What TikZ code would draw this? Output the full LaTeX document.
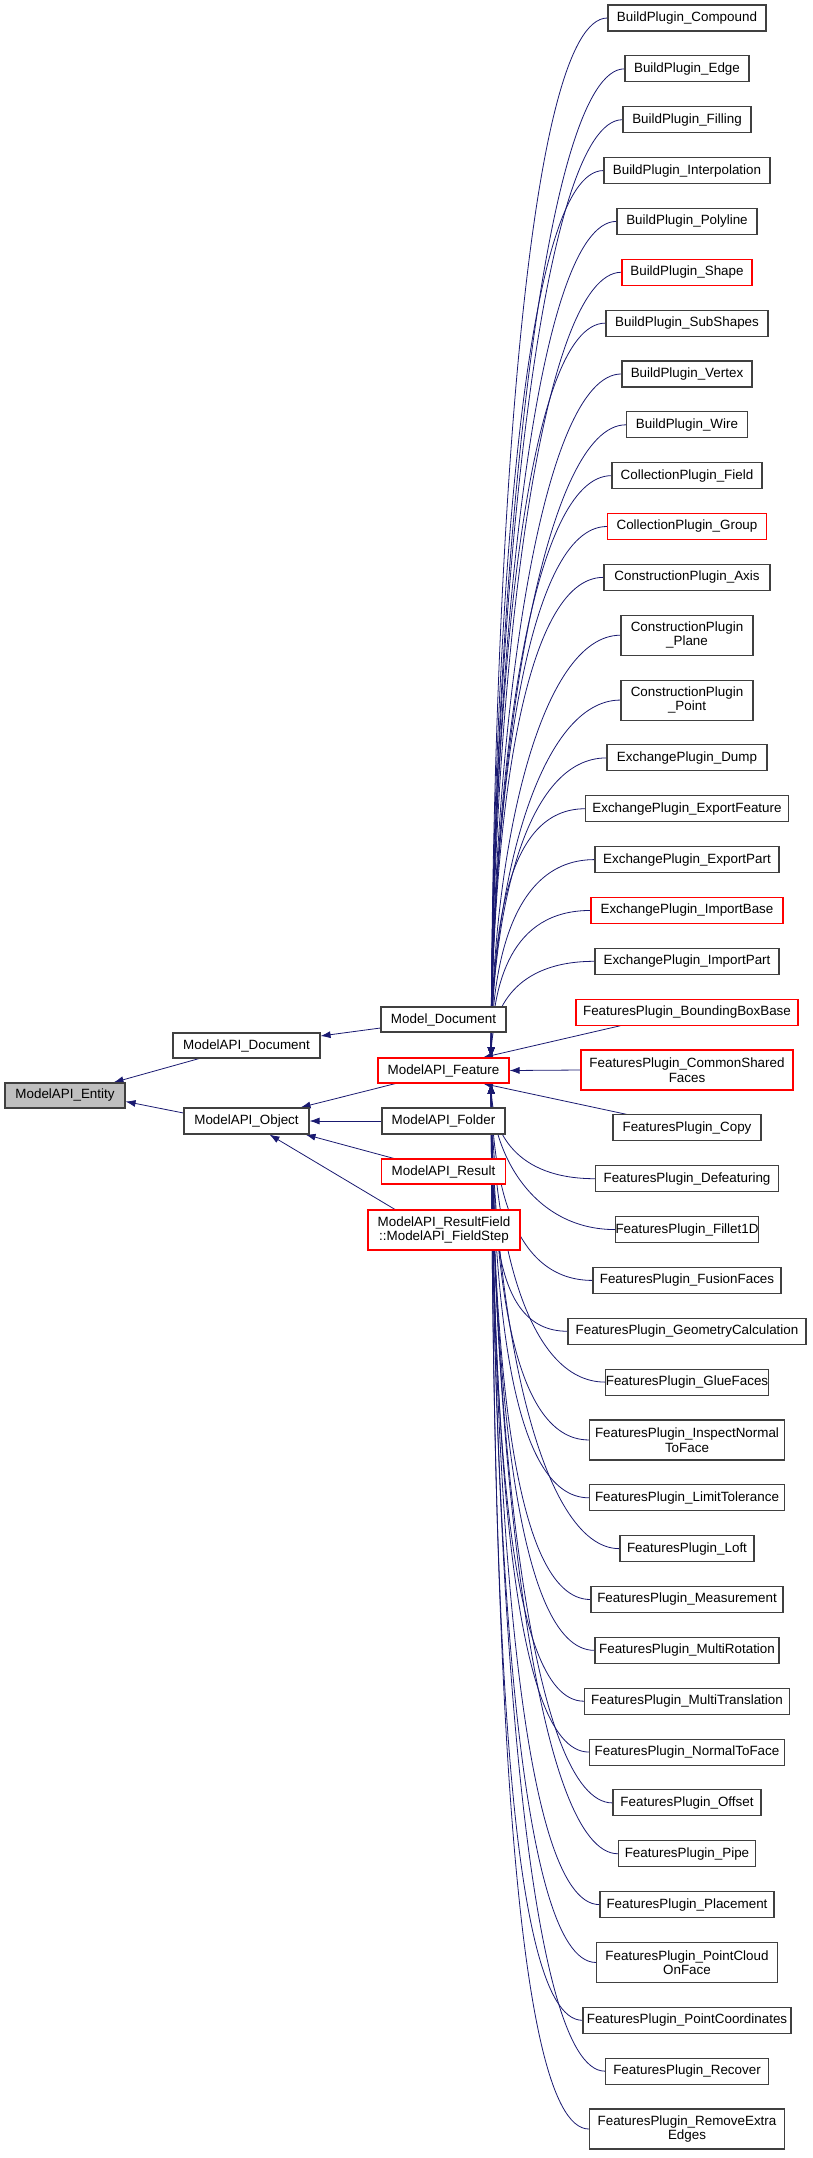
\documentclass[tikz,border=0pt]{standalone}
\usepackage{fontspec}
\setmainfont{Liberation Sans}
\usetikzlibrary{arrows.meta,calc}
\pgfdeclarelayer{background}
\pgfsetlayers{background,main}
\definecolor{edgec}{HTML}{191970}
\definecolor{bord}{HTML}{404040}
\newcommand\rnode[7]{%
  \pgfmathsetmacro\yy{-(5+#5*50.85+#6*64.85+#7/2)}%
  \node[box,#4,minimum width=#3pt,minimum height=#7pt] (#1) at (687,\yy) {#2};}
\begin{document}
\begin{tikzpicture}[x=1pt,y=1pt,
  box/.style={draw=bord,line width=1.1pt,fill=white,inner sep=0pt,align=center,
    font=\fontsize{13.4}{14.5}\selectfont},
  red/.style={draw=red},
  arr/.style={draw=edgec,line width=0.8pt,-{Latex[length=10pt,width=7pt]}}]
\useasboundingbox (0,0) rectangle (812,-2158);
% left part
\node[box,fill={rgb,255:red,191;green,191;blue,191},minimum width=120pt,minimum height=25pt] (ent) at (65,-1095.5) {ModelAPI\_Entity};
\node[box,minimum width=147pt,minimum height=25pt] (doc) at (246.5,-1045.5) {ModelAPI\_Document};
\node[box,minimum width=125pt,minimum height=26pt] (obj) at (246.5,-1121) {ModelAPI\_Object};
\node[box,minimum width=125pt,minimum height=25pt] (md) at (443.5,-1019.5) {Model\_Document};
\node[box,red,minimum width=131pt,minimum height=25pt] (feat) at (443.5,-1070.5) {ModelAPI\_Feature};
\node[box,minimum width=123pt,minimum height=26pt] (fol) at (443.5,-1121) {ModelAPI\_Folder};
\node[box,red,minimum width=124pt,minimum height=25pt] (res) at (443.5,-1171.5) {ModelAPI\_Result};
\node[box,red,minimum width=152pt,minimum height=40pt] (rf) at (444,-1230) {ModelAPI\_ResultField\\::ModelAPI\_FieldStep};
% right column
\rnode{n1}{BuildPlugin\_Compound}{158}{}{0}{0}{26}
\rnode{n2}{BuildPlugin\_Edge}{124}{}{1}{0}{26}
\rnode{n3}{BuildPlugin\_Filling}{128}{}{2}{0}{26}
\rnode{n4}{BuildPlugin\_Interpolation}{166}{}{3}{0}{26}
\rnode{n5}{BuildPlugin\_Polyline}{140}{}{4}{0}{26}
\rnode{n6}{BuildPlugin\_Shape}{130}{red}{5}{0}{26}
\rnode{n7}{BuildPlugin\_SubShapes}{162}{}{6}{0}{26}
\rnode{n8}{BuildPlugin\_Vertex}{130}{}{7}{0}{26}
\rnode{n9}{BuildPlugin\_Wire}{121}{}{8}{0}{26}
\rnode{n10}{CollectionPlugin\_Field}{150}{}{9}{0}{26}
\rnode{n11}{CollectionPlugin\_Group}{159}{red}{10}{0}{26}
\rnode{n12}{ConstructionPlugin\_Axis}{166}{}{11}{0}{26}
\rnode{n13}{ConstructionPlugin\\\_Plane}{132}{}{12}{0}{40}
\rnode{n14}{ConstructionPlugin\\\_Point}{132}{}{12}{1}{40}
\rnode{n15}{ExchangePlugin\_Dump}{160}{}{12}{2}{26}
\rnode{n16}{ExchangePlugin\_ExportFeature}{203}{}{13}{2}{26}
\rnode{n17}{ExchangePlugin\_ExportPart}{184}{}{14}{2}{26}
\rnode{n18}{ExchangePlugin\_ImportBase}{192}{red}{15}{2}{26}
\rnode{n19}{ExchangePlugin\_ImportPart}{184}{}{16}{2}{26}
\rnode{n20}{FeaturesPlugin\_BoundingBoxBase}{222}{red}{17}{2}{26}
\rnode{n21}{FeaturesPlugin\_CommonShared\\Faces}{212}{red}{18}{2}{40}
\rnode{n22}{FeaturesPlugin\_Copy}{148}{}{18}{3}{26}
\rnode{n23}{FeaturesPlugin\_Defeaturing}{183}{}{19}{3}{26}
\rnode{n24}{FeaturesPlugin\_Fillet1D}{138}{}{20}{3}{26}
\rnode{n25}{FeaturesPlugin\_FusionFaces}{188}{}{21}{3}{26}
\rnode{n26}{FeaturesPlugin\_GeometryCalculation}{238}{}{22}{3}{26}
\rnode{n27}{FeaturesPlugin\_GlueFaces}{156}{}{23}{3}{26}
\rnode{n28}{FeaturesPlugin\_InspectNormal\\ToFace}{195}{}{24}{3}{40}
\rnode{n29}{FeaturesPlugin\_LimitTolerance}{195}{}{24}{4}{26}
\rnode{n30}{FeaturesPlugin\_Loft}{134}{}{25}{4}{26}
\rnode{n31}{FeaturesPlugin\_Measurement}{192}{}{26}{4}{26}
\rnode{n32}{FeaturesPlugin\_MultiRotation}{184}{}{27}{4}{26}
\rnode{n33}{FeaturesPlugin\_MultiTranslation}{205}{}{28}{4}{26}
\rnode{n34}{FeaturesPlugin\_NormalToFace}{195}{}{29}{4}{26}
\rnode{n35}{FeaturesPlugin\_Offset}{148}{}{30}{4}{26}
\rnode{n36}{FeaturesPlugin\_Pipe}{137}{}{31}{4}{26}
\rnode{n37}{FeaturesPlugin\_Placement}{174}{}{32}{4}{26}
\rnode{n38}{FeaturesPlugin\_PointCloud\\OnFace}{181}{}{33}{4}{40}
\rnode{n39}{FeaturesPlugin\_PointCoordinates}{208}{}{33}{5}{26}
\rnode{n40}{FeaturesPlugin\_Recover}{163}{}{34}{5}{26}
\rnode{n41}{FeaturesPlugin\_RemoveExtra\\Edges}{195}{}{35}{5}{40}
\begin{pgfonlayer}{background}
% left edges
\draw[arr] ($(doc.south west)!0.18!(doc.south east)$) -- ([xshift=-12pt]ent.north east);
\draw[arr] ([yshift=8pt]obj.west) -- ([yshift=-6pt]ent.east);
\draw[arr] ([yshift=-8.5pt]md.west) -- ([yshift=9.5pt]doc.east);
\draw[arr] ([xshift=-48pt]feat.south) -- ([xshift=-9pt]obj.north east);
\draw[arr] (fol.west) -- (obj.east);
\draw[arr] ([xshift=13pt]res.north west) -- ([xshift=-4pt]obj.south east);
\draw[arr] ([xshift=-49pt]rf.north) -- ([xshift=23pt]obj.south);
% feature edges
\coordinate (ft) at ($(feat.north)!0.72!(feat.north east)$);
\coordinate (fb) at ($(feat.south)!0.72!(feat.south east)$);
\foreach \k in {1,...,19}{
  \draw[arr] let \p1=(n\k.west), \p2=(ft) in
    (\p1) .. controls (\x1-80,\y1) and (\x2+2,{0.5*(\y1+\y2)}) .. (ft);}
\foreach \k in {23,...,41}{
  \draw[arr] let \p1=(n\k.west), \p2=(fb) in
    (\p1) .. controls (\x1-80,\y1) and (\x2+2,{0.5*(\y1+\y2)}) .. (fb);}
\draw[arr] ([xshift=45pt]n20.south west) -- ([xshift=-8pt]ft);
\draw[arr] (n21.west) -- (feat.east);
\draw[arr] ([xshift=14pt]n22.north west) -- ([xshift=-8pt]fb);
\end{pgfonlayer}
\end{tikzpicture}
\end{document}
